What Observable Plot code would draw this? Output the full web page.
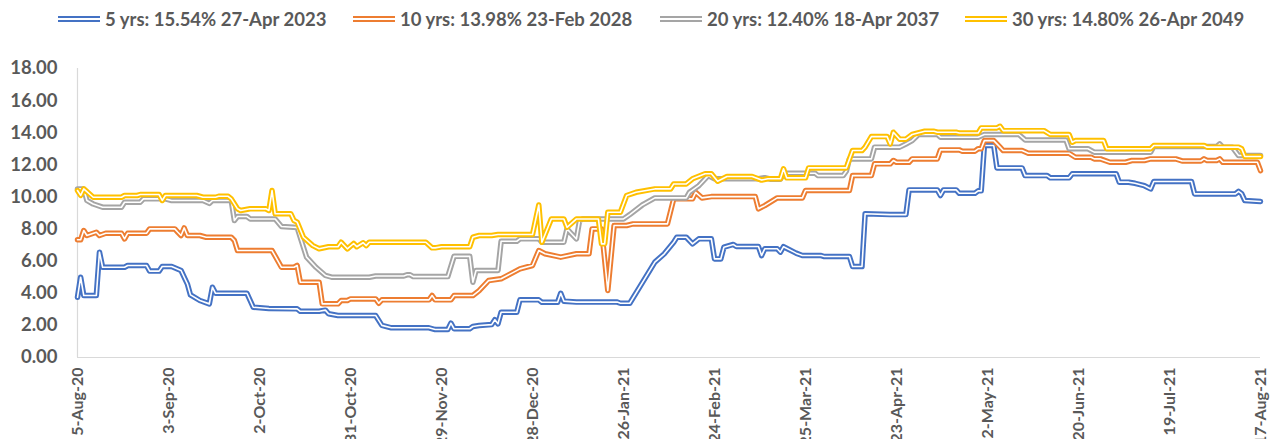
<!DOCTYPE html>
<html><head><meta charset="utf-8">
<script src="https://cdn.jsdelivr.net/npm/d3@7"></script>
<script src="https://cdn.jsdelivr.net/npm/@observablehq/plot@0.6"></script>
<style>
body{margin:0;background:#fff;font-family:Lato,"Open Sans",sans-serif;}
#wrap{position:relative;width:1273px;height:439px;overflow:hidden;background:#fff;}
#legend{position:relative;height:40px;}
.item{position:absolute;top:8px;display:flex;align-items:center;font-weight:bold;font-size:18.5px;color:#595959;white-space:nowrap;line-height:22px;}
.sw{width:42px;height:0;border-top:6px double;margin-right:5px;}
.yax text{font-size:18.5px;}
.xax text{font-size:16px;}
</style></head><body>
<div id="wrap"><div id="legend"></div><div id="chart"></div></div>
<script>
// x-axis tick dates and labels
const tickDates = ["2020-08-05","2020-09-03","2020-10-02","2020-10-31","2020-11-29","2020-12-28","2021-01-26","2021-02-24","2021-03-25","2021-04-23","2021-05-22","2021-06-20","2021-07-19","2021-08-17"];
const tickLabels = ["5-Aug-20","3-Sep-20","2-Oct-20","31-Oct-20","29-Nov-20","28-Dec-20","26-Jan-21","24-Feb-21","25-Mar-21","23-Apr-21","22-May-21","20-Jun-21","19-Jul-21","17-Aug-21"];
const yTicks = [0,2,4,6,8,10,12,14,16,18];

const seriesNames = ["5 yrs: 15.54% 27-Apr 2023","10 yrs: 13.98% 23-Feb 2028","20 yrs: 12.40% 18-Apr 2037","30 yrs: 14.80% 26-Apr 2049"];
const seriesColors = ["#4472C4","#ED7D31","#A5A5A5","#FFC000"];

// 5 yrs
const y5 = [["2020-08-05",3.75],["2020-08-06",5.0],["2020-08-07",3.86],["2020-08-11",3.86],["2020-08-12",6.56],["2020-08-13",5.62],["2020-08-20",5.62],["2020-08-21",5.73],["2020-08-27",5.73],["2020-08-28",5.38],["2020-08-31",5.38],["2020-09-01",5.67],["2020-09-04",5.67],["2020-09-07",5.42],["2020-09-09",4.59],["2020-09-10",3.9],["2020-09-13",3.55],["2020-09-16",3.34],["2020-09-17",4.38],["2020-09-18",4.0],["2020-09-28",4.0],["2020-09-30",3.13],["2020-10-05",3.05],["2020-10-14",3.03],["2020-10-15",2.88],["2020-10-21",2.88],["2020-10-23",2.95],["2020-10-24",2.72],["2020-10-27",2.62],["2020-11-08",2.62],["2020-11-10",2.0],["2020-11-13",1.85],["2020-11-25",1.85],["2020-11-27",1.74],["2020-12-01",1.74],["2020-12-02",2.14],["2020-12-03",1.79],["2020-12-08",1.79],["2020-12-09",1.93],["2020-12-11",1.99],["2020-12-15",2.05],["2020-12-16",2.35],["2020-12-17",2.1],["2020-12-18",2.82],["2020-12-23",2.82],["2020-12-24",3.59],["2020-12-30",3.59],["2020-12-31",3.44],["2021-01-05",3.44],["2021-01-06",4.0],["2021-01-07",3.51],["2021-01-11",3.45],["2021-01-24",3.45],["2021-01-25",3.38],["2021-01-28",3.38],["2021-02-05",5.94],["2021-02-08",6.46],["2021-02-11",7.18],["2021-02-12",7.49],["2021-02-15",7.49],["2021-02-17",7.08],["2021-02-19",7.39],["2021-02-23",7.39],["2021-02-24",6.14],["2021-02-26",6.14],["2021-02-27",6.87],["2021-03-02",7.04],["2021-03-03",6.91],["2021-03-10",6.91],["2021-03-11",6.35],["2021-03-12",6.77],["2021-03-16",6.77],["2021-03-17",6.56],["2021-03-18",6.9],["2021-03-22",6.5],["2021-03-24",6.35],["2021-03-30",6.35],["2021-03-31",6.29],["2021-04-08",6.29],["2021-04-09",5.67],["2021-04-12",5.67],["2021-04-13",8.95],["2021-04-21",8.9],["2021-04-26",8.9],["2021-04-27",10.44],["2021-05-06",10.44],["2021-05-07",10.09],["2021-05-08",10.44],["2021-05-12",10.44],["2021-05-13",10.23],["2021-05-18",10.23],["2021-05-19",10.38],["2021-05-20",10.38],["2021-05-21",13.2],["2021-05-24",13.2],["2021-05-25",11.81],["2021-06-02",11.81],["2021-06-03",11.33],["2021-06-10",11.33],["2021-06-11",11.19],["2021-06-17",11.19],["2021-06-18",11.44],["2021-07-02",11.44],["2021-07-03",10.92],["2021-07-06",10.92],["2021-07-08",10.85],["2021-07-11",10.7],["2021-07-13",10.5],["2021-07-14",10.96],["2021-07-26",10.96],["2021-07-27",10.19],["2021-08-09",10.19],["2021-08-10",10.35],["2021-08-11",10.2],["2021-08-12",9.78],["2021-08-17",9.72]];

// 10 yrs
const y10 = [["2020-08-05",7.33],["2020-08-06",7.33],["2020-08-07",7.91],["2020-08-08",7.6],["2020-08-11",7.8],["2020-08-12",7.6],["2020-08-14",7.74],["2020-08-19",7.74],["2020-08-20",7.39],["2020-08-21",7.74],["2020-08-27",7.74],["2020-08-28",8.01],["2020-09-05",8.01],["2020-09-06",7.8],["2020-09-07",7.6],["2020-09-08",8.07],["2020-09-09",7.6],["2020-09-13",7.6],["2020-09-15",7.49],["2020-09-23",7.49],["2020-09-24",7.29],["2020-09-25",6.66],["2020-10-06",6.66],["2020-10-09",5.62],["2020-10-13",5.62],["2020-10-14",5.73],["2020-10-15",4.69],["2020-10-21",4.69],["2020-10-22",3.34],["2020-10-27",3.34],["2020-10-28",3.55],["2020-10-30",3.55],["2020-10-31",3.65],["2020-11-08",3.65],["2020-11-09",3.38],["2020-11-10",3.59],["2020-11-25",3.59],["2020-11-26",3.86],["2020-11-27",3.59],["2020-12-02",3.59],["2020-12-03",3.86],["2020-12-09",3.86],["2020-12-11",4.17],["2020-12-14",4.79],["2020-12-18",4.9],["2020-12-21",5.21],["2020-12-24",5.52],["2020-12-28",5.73],["2020-12-30",6.66],["2021-01-01",6.46],["2021-01-06",6.25],["2021-01-11",6.46],["2021-01-15",6.46],["2021-01-16",8.01],["2021-01-19",8.01],["2021-01-21",4.17],["2021-01-23",8.22],["2021-01-27",8.22],["2021-01-29",8.32],["2021-02-09",8.32],["2021-02-11",9.88],["2021-02-17",9.88],["2021-02-18",10.29],["2021-02-20",9.94],["2021-02-23",10.02],["2021-03-09",10.02],["2021-03-10",9.26],["2021-03-12",9.46],["2021-03-16",9.94],["2021-03-24",9.94],["2021-03-25",10.4],["2021-04-08",10.4],["2021-04-09",11.33],["2021-04-15",11.33],["2021-04-16",12.06],["2021-04-21",12.06],["2021-04-22",12.27],["2021-04-23",12.16],["2021-04-27",12.16],["2021-04-28",12.37],["2021-05-06",12.37],["2021-05-07",12.93],["2021-05-13",12.93],["2021-05-14",12.85],["2021-05-18",12.85],["2021-05-19",13.0],["2021-05-20",13.0],["2021-05-21",13.51],["2021-05-24",13.51],["2021-05-26",13.1],["2021-05-27",12.89],["2021-06-02",12.89],["2021-06-04",12.72],["2021-06-17",12.72],["2021-06-19",12.47],["2021-06-24",12.47],["2021-06-25",12.37],["2021-06-27",12.37],["2021-06-30",12.16],["2021-07-05",12.16],["2021-07-07",12.27],["2021-07-11",12.27],["2021-07-13",12.37],["2021-07-21",12.37],["2021-07-23",12.24],["2021-07-29",12.24],["2021-07-30",12.37],["2021-07-31",12.27],["2021-08-03",12.27],["2021-08-04",12.37],["2021-08-05",12.16],["2021-08-16",12.16],["2021-08-17",11.64]];

// 20 yrs
const y20 = [["2020-08-05",10.5],["2020-08-07",10.5],["2020-08-08",9.78],["2020-08-10",9.56],["2020-08-13",9.36],["2020-08-19",9.36],["2020-08-20",9.67],["2020-08-25",9.67],["2020-08-26",9.88],["2020-09-02",9.88],["2020-09-04",9.78],["2020-09-14",9.78],["2020-09-16",9.6],["2020-09-17",9.78],["2020-09-23",9.78],["2020-09-24",8.53],["2020-09-25",8.78],["2020-09-28",8.78],["2020-09-29",8.63],["2020-10-07",8.63],["2020-10-09",8.16],["2020-10-14",8.1],["2020-10-17",6.25],["2020-10-20",5.62],["2020-10-23",5.11],["2020-10-25",5.0],["2020-11-06",5.0],["2020-11-08",5.08],["2020-11-17",5.08],["2020-11-18",5.15],["2020-11-19",5.15],["2020-11-20",5.04],["2020-12-01",5.04],["2020-12-03",6.3],["2020-12-08",6.3],["2020-12-09",4.69],["2020-12-10",5.42],["2020-12-17",5.42],["2020-12-18",7.24],["2020-12-23",7.24],["2020-12-24",7.39],["2020-12-30",7.39],["2020-12-31",7.18],["2021-01-07",7.18],["2021-01-08",8.01],["2021-01-09",7.8],["2021-01-11",7.39],["2021-01-12",8.53],["2021-01-13",8.63],["2021-01-26",8.63],["2021-01-28",8.9],["2021-02-01",9.5],["2021-02-05",9.94],["2021-02-15",9.94],["2021-02-16",10.29],["2021-02-19",10.7],["2021-02-22",11.33],["2021-02-24",11.13],["2021-03-10",11.13],["2021-03-12",11.2],["2021-03-14",11.1],["2021-03-17",11.1],["2021-03-18",11.48],["2021-03-28",11.48],["2021-03-29",11.33],["2021-04-06",11.33],["2021-04-07",11.6],["2021-04-08",12.37],["2021-04-15",12.37],["2021-04-16",13.1],["2021-04-24",13.1],["2021-04-26",13.3],["2021-04-28",13.51],["2021-04-30",13.89],["2021-05-06",13.89],["2021-05-07",13.72],["2021-05-19",13.72],["2021-05-21",13.89],["2021-06-01",13.89],["2021-06-03",13.55],["2021-06-16",13.55],["2021-06-17",13.0],["2021-06-23",13.0],["2021-06-25",12.79],["2021-07-13",12.79],["2021-07-14",13.14],["2021-08-03",13.14],["2021-08-04",13.3],["2021-08-05",13.1],["2021-08-08",13.1],["2021-08-10",12.58],["2021-08-17",12.58]];

// 30 yrs
const y30 = [["2020-08-05",10.4],["2020-08-06",10.1],["2020-08-07",10.5],["2020-08-10",9.98],["2020-08-19",9.98],["2020-08-20",10.09],["2020-08-24",10.09],["2020-08-25",10.15],["2020-08-31",10.15],["2020-09-01",9.78],["2020-09-02",10.09],["2020-09-12",10.09],["2020-09-14",9.98],["2020-09-18",9.98],["2020-09-19",10.04],["2020-09-22",10.04],["2020-09-23",9.88],["2020-09-25",9.26],["2020-09-26",9.16],["2020-09-29",9.26],["2020-10-04",9.26],["2020-10-05",9.16],["2020-10-06",10.4],["2020-10-07",8.95],["2020-10-12",8.95],["2020-10-13",8.53],["2020-10-14",8.43],["2020-10-16",7.49],["2020-10-19",6.97],["2020-10-21",6.77],["2020-10-24",6.9],["2020-10-27",6.9],["2020-10-28",7.18],["2020-10-30",6.77],["2020-11-01",7.1],["2020-11-02",6.9],["2020-11-04",7.15],["2020-11-05",6.97],["2020-11-06",7.18],["2020-11-24",7.18],["2020-11-26",6.83],["2020-11-27",6.83],["2020-11-29",6.9],["2020-12-08",6.9],["2020-12-09",7.49],["2020-12-11",7.6],["2020-12-15",7.6],["2020-12-17",7.66],["2020-12-28",7.66],["2020-12-30",9.5],["2020-12-31",7.18],["2021-01-03",8.63],["2021-01-07",8.63],["2021-01-08",8.11],["2021-01-11",8.63],["2021-01-18",8.63],["2021-01-19",7.08],["2021-01-20",7.08],["2021-01-21",9.05],["2021-01-25",9.05],["2021-01-27",10.09],["2021-01-30",10.29],["2021-02-05",10.5],["2021-02-10",10.5],["2021-02-11",10.81],["2021-02-15",10.81],["2021-02-17",11.13],["2021-02-21",11.44],["2021-02-23",11.44],["2021-02-25",10.98],["2021-02-28",11.27],["2021-03-08",11.27],["2021-03-11",11.05],["2021-03-13",11.13],["2021-03-17",11.13],["2021-03-18",11.75],["2021-03-19",11.19],["2021-03-25",11.19],["2021-03-26",11.81],["2021-04-07",11.81],["2021-04-09",12.89],["2021-04-12",12.89],["2021-04-13",13.1],["2021-04-15",13.76],["2021-04-20",13.76],["2021-04-21",13.3],["2021-04-22",14.03],["2021-04-24",13.6],["2021-04-26",13.6],["2021-04-28",13.89],["2021-05-02",14.09],["2021-05-05",14.09],["2021-05-06",14.03],["2021-05-12",14.03],["2021-05-13",13.98],["2021-05-19",13.98],["2021-05-20",14.3],["2021-05-25",14.3],["2021-05-26",14.4],["2021-05-27",14.13],["2021-06-09",14.13],["2021-06-11",13.89],["2021-06-17",13.89],["2021-06-18",13.41],["2021-06-19",13.51],["2021-06-28",13.51],["2021-06-29",13.0],["2021-07-13",13.0],["2021-07-14",13.2],["2021-07-30",13.2],["2021-07-31",13.1],["2021-08-10",13.1],["2021-08-11",13.0],["2021-08-12",12.52],["2021-08-17",12.52]];

const seriesData = [y5, y10, y20, y30];
const legendLeft = [58, 353, 660, 965];

const parse = d3.utcParse("%Y-%m-%d");
const labelMap = new Map(tickDates.map((d, i) => [+parse(d), tickLabels[i]]));

// legend
const legend = document.getElementById("legend");
seriesNames.forEach((name, i) => {
  const it = document.createElement("div");
  it.className = "item";
  it.style.left = legendLeft[i] + "px";
  const sw = document.createElement("span");
  sw.className = "sw";
  sw.style.borderTopColor = seriesColors[i];
  const tx = document.createElement("span");
  tx.textContent = name;
  it.appendChild(sw); it.appendChild(tx);
  legend.appendChild(it);
});

const lineMarks = [];
seriesData.forEach((pts, i) => {
  const data = pts.map(([d, v]) => ({date: parse(d), v}));
  lineMarks.push(Plot.line(data, {x: "date", y: "v", stroke: seriesColors[i], strokeWidth: 5.5}));
  lineMarks.push(Plot.line(data, {x: "date", y: "v", stroke: "white", strokeWidth: 1.6}));
});

const chart = Plot.plot({
  width: 1273, height: 399,
  marginLeft: 77, marginRight: 13, marginTop: 28, marginBottom: 82,
  x: {type: "utc", domain: [parse(tickDates[0]), parse(tickDates[tickDates.length - 1])]},
  y: {domain: [0, 18]},
  style: {fontFamily: "Lato, 'Open Sans', sans-serif", fontSize: "16px", fontWeight: "bold", color: "#595959", background: "white", overflow: "visible"},
  marks: [
    Plot.ruleY([0], {stroke: "#d9d9d9", strokeWidth: 1.2}),
    Plot.ruleX([parse(tickDates[0])], {stroke: "#d9d9d9", strokeWidth: 1.2}),
    Plot.axisY({ticks: yTicks, tickFormat: d => d.toFixed(2), tickSize: 0, tickPadding: 20, label: null, className: "yax"}),
    Plot.axisX({ticks: tickDates.map(parse), tickFormat: d => labelMap.get(+d), tickRotate: -90, tickSize: 0, tickPadding: 10, label: null, className: "xax"}),
    ...lineMarks
  ]
});
document.getElementById("chart").appendChild(chart);
</script>
</body></html>
